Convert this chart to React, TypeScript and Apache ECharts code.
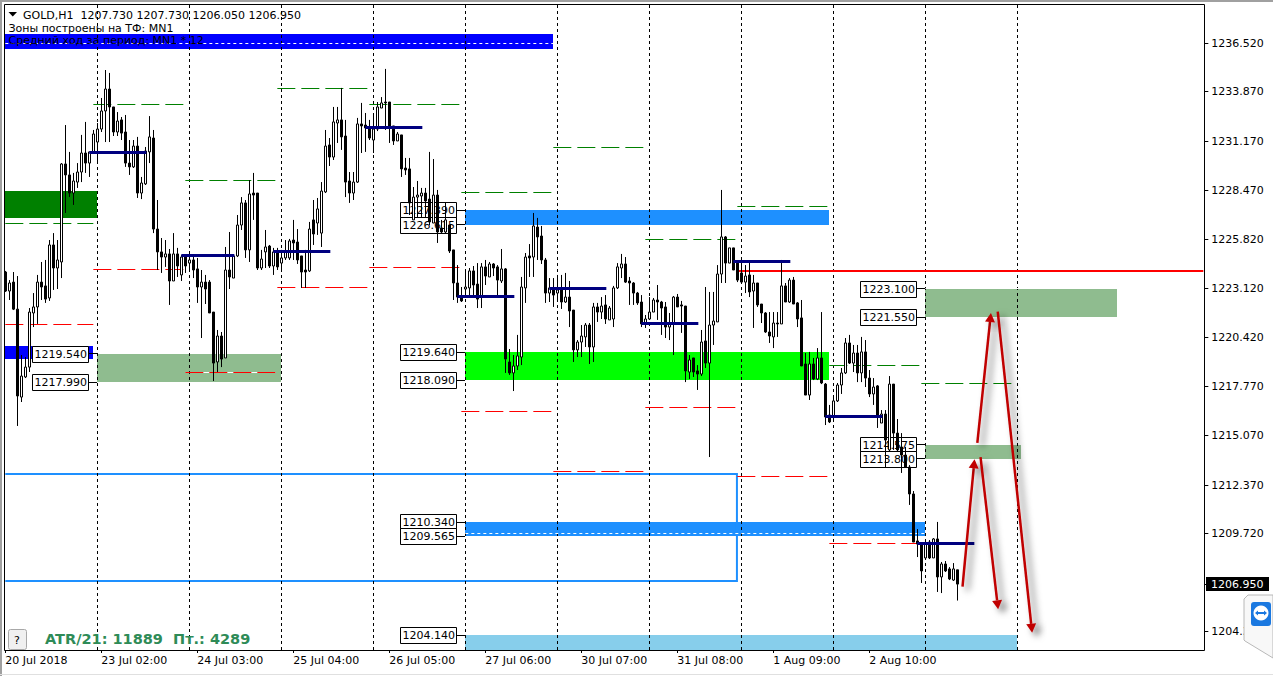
import React, { useEffect, useRef } from "react";
import * as echarts from "echarts";

// [open, close, low, high]
const bars20Jul = [[1224.02,1222.98,1222.93,1224.08],[1222.98,1223.42,1222.49,1223.58],[1223.47,1221.99,1221.94,1224.02],[1221.99,1217.24,1215.6,1223.8],[1217.18,1218.33,1216.91,1219.48],[1218.28,1218.82,1218.22,1219.37],[1218.82,1221.83,1218.55,1222.05],[1221.78,1222.11,1221.01,1222.87],[1222.11,1223.47,1221.18,1223.86],[1223.47,1223.2,1222.49,1224.57],[1223.26,1222.54,1222.33,1224.68],[1222.6,1225.5,1222.44,1225.77],[1225.5,1224.24,1223.04,1226.15],[1224.24,1224.68,1223.09,1225.77],[1224.57,1229.93,1223.69,1229.98],[1229.93,1229.33,1227.25,1232.06],[1229.33,1228.34,1228.12,1230.59],[1228.34,1229.0,1227.69,1229.44],[1228.94,1229.49,1228.62,1229.98],[1229.49,1230.53,1228.94,1231.52],[1230.53,1229.98,1229.44,1232.23],[1229.98,1230.59,1229.22,1230.59],[1230.59,1231.57,1230.53,1231.79],[1231.13,1231.84,1229.98,1232.17]];
const bars23Jul = [[1231.84,1232.83,1231.68,1233.54],[1232.83,1234.03,1231.13,1235.07],[1234.03,1233.05,1231.13,1234.91],[1233.05,1231.68,1231.46,1233.05],[1231.68,1232.28,1231.46,1232.77],[1232.34,1231.62,1231.24,1232.5],[1231.68,1229.98,1229.77,1232.61],[1229.98,1229.77,1229.33,1231.24],[1229.77,1230.91,1229.71,1231.24],[1230.91,1228.34,1228.07,1231.41],[1228.34,1228.89,1228.01,1229.22],[1228.84,1230.64,1228.78,1230.86],[1230.59,1231.41,1229.98,1232.55],[1231.35,1226.37,1226.15,1231.79],[1226.37,1225.12,1224.13,1227.96],[1225.12,1224.84,1223.97,1225.88],[1224.84,1225.01,1224.3,1225.77],[1225.01,1223.53,1222.22,1225.28],[1223.53,1225.01,1223.53,1226.15],[1225.01,1224.35,1223.75,1225.34],[1223.86,1224.84,1223.53,1224.95],[1224.95,1224.35,1223.97,1224.95],[1224.51,1224.68,1224.02,1224.9]];
const bars24Jul = [[1224.68,1224.13,1223.69,1224.9],[1224.19,1223.2,1222.33,1224.79],[1223.2,1223.47,1220.41,1224.13],[1223.47,1223.09,1222.27,1223.86],[1223.47,1221.78,1221.78,1223.58],[1221.83,1219.04,1218.06,1221.83],[1219.1,1220.52,1218.55,1220.85],[1220.52,1219.26,1218.82,1220.74],[1219.32,1224.13,1219.32,1225.39],[1224.13,1223.75,1223.09,1226.21],[1223.69,1224.9,1223.69,1224.9],[1224.9,1226.59,1224.84,1227.14],[1226.59,1227.8,1226.32,1228.12],[1227.8,1225.23,1224.79,1227.96],[1225.23,1228.29,1224.57,1229.05],[1228.34,1228.23,1226.87,1229.44],[1228.34,1224.24,1224.13,1228.34],[1224.24,1224.73,1224.13,1225.23],[1225.12,1225.39,1224.24,1226.32],[1225.44,1224.35,1224.24,1225.5],[1224.35,1225.12,1223.86,1225.34],[1225.12,1224.3,1224.13,1225.34],[1224.51,1224.79,1224.02,1225.23]];
const bars25Jul = [[1224.79,1225.12,1224.68,1225.77],[1224.79,1225.72,1224.68,1225.83],[1225.77,1225.61,1224.68,1226.87],[1225.66,1224.68,1224.46,1226.37],[1224.9,1224.02,1223.15,1224.9],[1224.13,1224.02,1223.15,1225.23],[1224.08,1226.37,1224.02,1226.76],[1226.87,1226.1,1225.5,1227.96],[1226.7,1227.47,1226.05,1228.07],[1226.15,1228.45,1225.39,1228.94],[1228.4,1230.91,1228.34,1231.79],[1230.97,1230.31,1229.82,1231.35],[1230.31,1232.23,1230.15,1233.05],[1232.17,1232.34,1231.08,1233.05],[1232.34,1231.41,1230.7,1234.09],[1231.46,1228.94,1228.12,1232.34],[1229.0,1228.34,1227.8,1229.49],[1228.34,1228.94,1227.96,1229.49],[1228.94,1232.12,1228.89,1232.45],[1232.12,1232.01,1230.53,1233.27],[1232.06,1231.9,1230.59,1232.72],[1231.9,1231.35,1231.24,1232.34],[1231.24,1231.84,1230.53,1232.61]];
const bars26Jul = [[1231.84,1233.05,1231.73,1233.32],[1232.99,1233.27,1232.99,1233.59],[1233.32,1233.27,1231.79,1235.13],[1233.32,1231.95,1231.08,1233.32],[1232.01,1231.19,1230.97,1232.01],[1231.19,1231.57,1231.19,1231.68],[1231.52,1229.66,1229.22,1231.52],[1229.71,1229.6,1229.33,1230.26],[1229.66,1227.8,1227.14,1230.26],[1226.87,1228.12,1226.87,1228.67],[1228.12,1228.23,1227.03,1229.0],[1228.18,1228.34,1227.03,1228.62],[1228.34,1227.91,1227.03,1228.62],[1228.01,1226.76,1226.59,1230.59],[1226.7,1228.23,1226.7,1230.2],[1228.23,1226.21,1225.61,1228.51],[1226.43,1226.21,1226.15,1226.87],[1226.21,1226.87,1226.15,1227.85],[1226.59,1225.17,1225.06,1226.59],[1225.23,1223.42,1222.49,1225.23],[1223.42,1222.65,1222.33,1224.4],[1222.65,1222.44,1222.38,1223.2],[1223.09,1223.2,1222.65,1224.13]];
const bars27Jul = [[1223.15,1224.08,1222.76,1224.24],[1224.08,1223.31,1222.65,1224.35],[1223.36,1222.54,1222.05,1224.51],[1222.65,1224.3,1222.05,1224.51],[1224.3,1223.8,1223.31,1224.68],[1223.75,1224.46,1223.75,1224.57],[1224.46,1224.24,1223.8,1224.51],[1224.3,1223.58,1222.65,1224.4],[1223.53,1224.19,1223.42,1225.28],[1224.19,1219.26,1218.5,1224.24],[1219.1,1218.5,1218.39,1219.81],[1218.5,1218.88,1217.51,1219.48],[1218.88,1219.43,1218.66,1220.58],[1219.37,1223.2,1218.93,1223.75],[1223.15,1224.84,1222.33,1225.06],[1224.9,1224.79,1223.75,1225.55],[1224.84,1226.54,1223.75,1227.25],[1226.48,1225.94,1224.68,1226.98],[1225.99,1224.68,1224.46,1226.54],[1224.68,1222.87,1222.33,1224.79],[1222.87,1223.15,1222.38,1223.69],[1223.15,1222.76,1222.11,1223.69],[1222.87,1223.04,1222.49,1223.86]];
const bars30Jul = [[1223.04,1222.38,1222.0,1223.86],[1222.38,1222.65,1222.33,1223.97],[1222.65,1221.89,1221.01,1223.53],[1221.94,1219.76,1219.1,1221.94],[1219.76,1220.19,1219.37,1220.3],[1220.19,1220.52,1219.37,1221.12],[1220.47,1221.12,1219.92,1221.23],[1221.12,1219.92,1218.99,1221.23],[1219.92,1222.11,1219.1,1222.33],[1222.11,1221.83,1221.29,1222.33],[1221.83,1222.16,1221.45,1222.65],[1222.22,1221.45,1221.18,1222.76],[1221.4,1222.05,1221.4,1222.16],[1221.45,1223.15,1221.01,1223.26],[1223.15,1224.3,1223.09,1224.51],[1224.24,1224.46,1223.69,1225.01],[1224.46,1223.47,1223.42,1224.84],[1223.53,1223.42,1222.22,1223.75],[1223.42,1222.87,1222.22,1223.47],[1222.87,1222.33,1222.22,1222.93],[1222.38,1221.18,1221.01,1222.76],[1221.23,1221.45,1220.96,1221.67],[1221.45,1221.83,1221.4,1222.65]];
const bars31Jul = [[1221.83,1222.49,1221.83,1222.6],[1222.49,1222.38,1221.4,1223.31],[1222.38,1222.05,1220.58,1222.44],[1222.11,1221.01,1220.41,1222.38],[1221.01,1221.23,1220.3,1221.78],[1221.23,1222.65,1219.48,1222.71],[1222.65,1222.11,1222.11,1222.82],[1222.22,1222.16,1220.69,1222.44],[1222.16,1218.61,1218.0,1222.16],[1218.55,1219.21,1218.17,1219.48],[1219.32,1218.55,1218.28,1219.32],[1218.61,1218.44,1217.57,1218.93],[1218.44,1220.19,1218.33,1220.85],[1220.25,1219.04,1218.77,1223.2],[1219.04,1221.12,1213.9,1222.93],[1221.12,1221.34,1220.03,1222.93],[1221.29,1223.91,1221.29,1224.4],[1223.91,1225.94,1223.42,1228.51],[1225.94,1224.51,1223.42,1225.99],[1224.51,1225.34,1224.51,1225.34],[1225.34,1224.13,1224.13,1225.34],[1224.51,1223.58,1223.47,1224.51],[1223.97,1223.47,1223.42,1224.35]];
const bars1Aug = [[1223.47,1223.8,1222.87,1224.4],[1223.86,1222.93,1222.65,1224.57],[1222.98,1223.42,1220.96,1223.86],[1223.42,1222.22,1222.11,1223.42],[1222.27,1221.78,1221.23,1222.27],[1221.78,1220.74,1220.69,1221.83],[1220.74,1220.52,1220.14,1221.83],[1220.47,1221.23,1219.86,1221.83],[1221.23,1221.18,1220.47,1221.83],[1221.18,1223.26,1221.18,1224.68],[1223.26,1222.38,1222.38,1223.42],[1222.38,1223.58,1222.33,1223.69],[1223.58,1222.27,1222.27,1223.75],[1222.33,1221.45,1221.01,1222.38],[1221.51,1218.88,1218.88,1222.49],[1218.99,1217.29,1217.29,1219.59],[1217.29,1218.99,1217.02,1219.65],[1218.99,1218.17,1218.11,1219.32],[1218.17,1219.32,1218.11,1219.86],[1219.32,1217.95,1217.89,1221.83],[1217.89,1216.09,1215.65,1217.95],[1216.2,1215.82,1215.76,1216.75],[1216.09,1216.97,1215.82,1217.18]];
const bars2Aug = [[1216.97,1217.84,1216.91,1217.95],[1217.84,1218.5,1217.35,1218.77],[1218.5,1220.14,1218.44,1220.41],[1220.14,1219.04,1218.99,1220.58],[1219.04,1219.59,1218.55,1220.03],[1219.59,1218.5,1218.0,1220.03],[1218.5,1219.65,1218.0,1220.47],[1219.65,1218.22,1217.73,1220.3],[1218.22,1217.35,1217.18,1218.66],[1217.35,1217.73,1216.75,1218.22],[1217.79,1216.2,1215.49,1217.84],[1215.76,1216.25,1215.76,1216.47],[1216.25,1214.83,1213.3,1216.47],[1214.29,1217.89,1214.18,1218.33],[1217.89,1215.21,1214.29,1217.89],[1215.21,1214.29,1214.23,1215.98],[1214.45,1214.01,1213.03,1215.21],[1214.01,1213.35,1213.3,1214.45],[1213.35,1211.88,1211.28,1213.46],[1211.88,1209.25,1209.25,1212.04],[1209.31,1209.14,1208.43,1209.96],[1209.2,1207.67,1207.01,1209.2],[1208.38,1209.2,1208.32,1209.36],[1209.25,1208.38,1208.32,1209.36],[1208.38,1209.42,1208.38,1209.47],[1209.42,1207.34,1206.52,1210.35],[1207.34,1208.05,1206.46,1208.16],[1208.05,1207.67,1207.61,1208.21],[1207.78,1207.23,1207.17,1207.88],[1207.17,1207.78,1207.12,1208.1],[1207.73,1206.95,1206.05,1207.73]];
const candles = [...bars20Jul, ...bars23Jul, ...bars24Jul, ...bars25Jul, ...bars26Jul, ...bars27Jul, ...bars30Jul, ...bars31Jul, ...bars1Aug, ...bars2Aug];

const timeLabels = ["20 Jul 2018", "23 Jul 02:00", "24 Jul 03:00", "25 Jul 04:00", "26 Jul 05:00", "27 Jul 06:00", "30 Jul 07:00", "31 Jul 08:00", "1 Aug 09:00", "2 Aug 10:00"];
const priceLabels = [1236.52, 1233.87, 1231.17, 1228.47, 1225.82, 1223.12, 1220.42, 1217.77, 1215.07, 1212.37, 1209.72, 1204.37];
const lastPrice = 1206.95;
const priceMax = 1238.626;
const priceMin = 1203.345;
const barSlots = 300;

// [fromBar, top, toBar, bottom]
const zoneRows = [
  [0, 1228.47, 23, 1227.0],
  [0, 1219.97, 21.9, 1219.24],
  [23, 1219.54, 69, 1217.99],
  [115, 1227.39, 206, 1226.615],
  [115, 1219.64, 206, 1218.09],
  [230, 1223.1, 277.9, 1221.55],
  [230, 1214.575, 253.9, 1213.8],
  [115, 1210.34, 230, 1209.565],
  [115, 1204.14, 253, priceMin],
  [0, 1237.04, 137, 1236.24],
];
const zoneColors = ["#008000", "#0000ff", "#8fbc8f", "#1e90ff", "#00ff00", "#8fbc8f", "#8fbc8f", "#1e90ff", "#87ceeb", "#0000ff"];

const openBox = [0, 1212.97, 182.9, 1207.12];
const resistanceLine = [183, 1224.08, 299.5];
const periodBars = [23, 46, 69, 92, 115, 138, 161, 184, 207, 230, 253];

// [fromBar, toBar, price]
const greenLevels = [[0, 22, 1226.69], [22, 44.5, 1233.16], [45, 67.5, 1229.0], [68, 90.5, 1234.07], [91, 113.5, 1233.16], [114, 136.5, 1228.38], [137, 159.5, 1230.84], [160, 182.5, 1225.81], [183, 205.5, 1227.63], [206, 228.5, 1218.93], [229, 251.5, 1217.93]];
const redLevels = [[0, 22, 1221.16], [22, 44.5, 1224.17], [45, 67.5, 1218.54], [68, 90.5, 1223.18], [91, 113.5, 1224.28], [114, 136.5, 1216.4], [137, 159.5, 1213.12], [160, 182.5, 1216.62], [183, 205.5, 1212.85], [206, 228.5, 1209.18]];
const zoneGridLines = [[0, 137, 1236.52], [115, 230, 1209.72], [230, 277.9, 1223.12], [0, 23, 1228.47]];
const whiteUnderlay = [[45, 67.5, 1218.54]];
const navyLevels = [[21, 35.25, 1230.57], [44, 57.25, 1224.9], [67, 81.25, 1225.15], [90, 104.25, 1231.94], [113, 127.25, 1222.69], [136, 150.25, 1223.13], [159, 173.25, 1221.22], [182, 196.25, 1224.57], [205, 219.25, 1216.13], [228, 242.25, 1209.18]];

// [zoneStartBar, price]
const priceTags = [[23, 1219.54], [23, 1217.99], [115, 1227.39], [115, 1226.615], [115, 1219.64], [115, 1218.09], [115, 1210.34], [115, 1209.565], [115, 1204.14], [230, 1223.1], [230, 1221.55], [230, 1214.575], [230, 1213.8]];

// [fromBar, fromPrice, tipBar, tipPrice]
const arrows = [
  [239.3, 1206.81, 242.3, 1213.78],
  [243.8, 1213.9, 248.2, 1205.57],
  [243, 1214.67, 246.4, 1221.78],
  [248.1, 1221.85, 256.7, 1204.29],
];

const FONT = "'DejaVu Sans', sans-serif";
const crisp = (v: number) => Math.round(v - 0.5) + 0.5;

const lineSeries = (name: string, rows: number[][], stroke: string, width: number, dash: number[] | null, z: number) => ({
  type: "custom", name, xAxisIndex: 1, yAxisIndex: 0, z, clip: false, silent: true,
  data: rows, encode: { x: [0, 1], y: 2 },
  renderItem: (_p: any, api: any) => {
    const a = api.coord([api.value(0), api.value(2)]);
    const b = api.coord([api.value(1), api.value(2)]);
    const y = width % 2 ? crisp(a[1]) : Math.round(a[1]);
    return { type: "line", shape: { x1: a[0], y1: y, x2: b[0], y2: y }, style: { stroke, lineWidth: width, lineDash: dash || undefined, fill: null } };
  },
});

export default function App() {
  const ref = useRef<HTMLDivElement>(null);
  useEffect(() => {
    const chart = echarts.init(ref.current!, undefined, { renderer: "svg" });
    const tickAt = (i: number) => i % 24 === 0 && i / 24 < timeLabels.length;
    const categories = Array.from({ length: barSlots }, (_, i) => String(i));
    chart.setOption({
      animation: false,
      backgroundColor: "#ffffff",
      grid: { left: 3.33, top: 5, width: 1200, height: 645, containLabel: false },
      xAxis: [
        {
          type: "category", data: categories, boundaryGap: true,
          axisLine: { show: false },
          axisTick: { show: true, alignWithLabel: true, length: 3, interval: tickAt, lineStyle: { color: "#000" } },
          axisLabel: { interval: tickAt, align: "left", margin: 5, color: "#000", fontFamily: FONT, fontSize: 11, formatter: (_v: string, i: number) => timeLabels[i / 24] ?? "" },
          splitLine: { show: false },
        },
        { type: "value", min: -0.5, max: barSlots - 0.5, show: false, splitLine: { show: false } },
      ],
      yAxis: {
        type: "value", position: "right", min: priceMin, max: priceMax, offset: 1,
        axisLine: { show: false },
        axisTick: { show: false },
        axisLabel: { customValues: priceLabels, margin: 7, color: "#000", fontFamily: FONT, fontSize: 11, formatter: (v: number) => v.toFixed(3) },
        splitLine: { show: false },
      },
      series: [
        {
          type: "custom", name: "zones", xAxisIndex: 1, yAxisIndex: 0, z: 1, clip: false, silent: true,
          data: zoneRows, encode: { x: [0, 2], y: [1, 3] },
          renderItem: (p: any, api: any) => {
            const a = api.coord([api.value(0), api.value(1)]);
            const b = api.coord([api.value(2), api.value(3)]);
            return { type: "rect", shape: { x: Math.round(a[0]), y: Math.round(a[1]), width: Math.round(b[0]) - Math.round(a[0]), height: Math.round(b[1]) - Math.round(a[1]) }, style: { fill: zoneColors[p.dataIndex] } };
          },
        },
        {
          type: "custom", name: "openBox", xAxisIndex: 1, yAxisIndex: 0, z: 1, clip: false, silent: true,
          data: [openBox], encode: { x: [0, 2], y: [1, 3] },
          renderItem: (_p: any, api: any) => {
            const a = api.coord([api.value(0), api.value(1)]);
            const b = api.coord([api.value(2), api.value(3)]);
            return { type: "polyline", shape: { points: [[a[0], a[1]], [b[0], a[1]], [b[0], b[1]], [a[0], b[1]]] }, style: { stroke: "#1e90ff", lineWidth: 2, fill: null } };
          },
        },
        {
          type: "custom", name: "periods", xAxisIndex: 1, yAxisIndex: 0, z: 2, clip: false, silent: true,
          data: periodBars.map((b) => [b]), encode: { x: 0 },
          renderItem: (_p: any, api: any) => {
            const a = api.coord([api.value(0), priceMax]);
            const b = api.coord([api.value(0), priceMin]);
            const x = crisp(a[0]);
            return { type: "line", shape: { x1: x, y1: a[1], x2: x, y2: b[1] }, style: { stroke: "#000", lineWidth: 1, lineDash: [3, 3], fill: null } };
          },
        },
        {
          type: "custom", name: "price ticks", xAxisIndex: 1, yAxisIndex: 0, z: 2, clip: false, silent: true,
          data: [...priceLabels, lastPrice].map((p) => [barSlots - 0.5, p]), encode: { x: 0, y: 1 },
          renderItem: (_p: any, api: any) => {
            const c = api.coord([api.value(0), api.value(1)]);
            const y = crisp(c[1]);
            return { type: "line", shape: { x1: c[0] + 1, y1: y, x2: c[0] + 5, y2: y }, style: { stroke: "#000", lineWidth: 1, fill: null } };
          },
        },
        lineSeries("zone grid lines", zoneGridLines, "#ffffff", 1, [3, 3], 2),
        lineSeries("white underlay", whiteUnderlay, "#ffffff", 1, null, 2),
        lineSeries("green levels", greenLevels, "#008000", 1, [18, 6], 3),
        lineSeries("red levels", redLevels, "#ff0000", 1, [18, 6], 3),
        lineSeries("resistance", [[resistanceLine[0], resistanceLine[2], resistanceLine[1]]], "#ff0000", 2, null, 3),
        {
          type: "custom", name: "tags", xAxisIndex: 1, yAxisIndex: 0, z: 4, clip: false, silent: true,
          data: priceTags, encode: { x: 0, y: 1 },
          renderItem: (_p: any, api: any) => {
            const c = api.coord([api.value(0), api.value(1)]);
            const right = Math.round(c[0]) - 9;
            const y = crisp(c[1]);
            return {
              type: "group",
              children: [
                { type: "line", shape: { x1: right, y1: y, x2: right + 9, y2: y }, style: { stroke: "#000", lineWidth: 1, fill: null } },
                { type: "rect", shape: { x: right - 55.5, y: Math.round(c[1]) - 7.5, width: 56, height: 16 }, style: { fill: "#fff", stroke: "#000", lineWidth: 1 } },
                { type: "text", style: { x: right - 53.5, y: Math.round(c[1]) + 0.5, text: api.value(1).toFixed(3), fill: "#000", font: `11px ${FONT}`, textVerticalAlign: "middle", verticalAlign: "middle" } },
              ],
            };
          },
        },
        {
          type: "candlestick", name: "GOLD,H1", xAxisIndex: 0, yAxisIndex: 0, z: 5, data: candles, barWidth: 2, silent: true, clip: false,
          itemStyle: { color: "#ffffff", color0: "#000000", borderColor: "#000000", borderColor0: "#000000", borderWidth: 1 },
        },
        lineSeries("navy levels", navyLevels, "#000080", 3, null, 6),
        {
          type: "custom", name: "arrows", xAxisIndex: 1, yAxisIndex: 0, z: 7, clip: false, silent: true,
          data: arrows, encode: { x: [0, 2], y: [1, 3] },
          renderItem: (_p: any, api: any) => {
            const a = api.coord([api.value(0), api.value(1)]);
            const t = api.coord([api.value(2), api.value(3)]);
            const dx = t[0] - a[0], dy = t[1] - a[1], len = Math.hypot(dx, dy);
            const ux = dx / len, uy = dy / len;
            const bx = t[0] - ux * 9, by = t[1] - uy * 9;
            const shadow = { shadowBlur: 7, shadowColor: "rgba(0,0,0,0.6)", shadowOffsetX: 5, shadowOffsetY: 4 };
            return {
              type: "group",
              children: [
                { type: "line", shape: { x1: a[0], y1: a[1], x2: bx, y2: by }, style: { stroke: "#c00000", lineWidth: 2.5, fill: null, ...shadow } },
                { type: "polygon", shape: { points: [[t[0], t[1]], [bx - uy * 5, by + ux * 5], [bx + uy * 5, by - ux * 5]] }, style: { fill: "#c00000", ...shadow } },
              ],
            };
          },
        },
        {
          type: "custom", name: "last price", xAxisIndex: 1, yAxisIndex: 0, z: 8, clip: false, silent: true,
          data: [[candles.length - 1, lastPrice]], encode: { x: 0, y: 1 },
          renderItem: (_p: any, api: any) => {
            const c = api.coord([api.value(0), api.value(1)]);
            const y = Math.round(c[1]);
            return {
              type: "group",
              children: [
                { type: "rect", shape: { x: 1206, y: y - 7, width: 63, height: 14 }, style: { fill: "#000" } },
                { type: "text", style: { x: 1211, y, text: api.value(1).toFixed(3), fill: "#fff", font: `11px ${FONT}`, textVerticalAlign: "middle", verticalAlign: "middle" } },
              ],
            };
          },
        },
      ],
      graphic: [
        { type: "rect", z: 50, silent: true, shape: { x: 0, y: 0, width: 2, height: 676 }, style: { fill: "#a0a0a0" } },
        { type: "rect", z: 50, silent: true, shape: { x: 0, y: 0, width: 1273, height: 2 }, style: { fill: "#a0a0a0" } },
        { type: "rect", z: 50, silent: true, shape: { x: 0, y: 674, width: 1273, height: 1 }, style: { fill: "#e0e0e0" } },
        { type: "rect", z: 50, silent: true, shape: { x: 4.5, y: 4.5, width: 1200, height: 646 }, style: { fill: "none", stroke: "#000", lineWidth: 1 } },
        { type: "polygon", z: 60, silent: true, shape: { points: [[8.5, 12], [17, 12], [12.75, 16.5]] }, style: { fill: "#000" } },
        { type: "text", z: 60, silent: true, style: { x: 23, y: 15, text: "GOLD,H1  1207.730 1207.730 1206.050 1206.950", fill: "#000", font: `11px ${FONT}`, verticalAlign: "middle", textVerticalAlign: "middle" } },
        { type: "text", z: 60, silent: true, style: { x: 8.5, y: 28, text: "Зоны построены на ТФ: MN1", fill: "#000", font: `11px ${FONT}`, verticalAlign: "middle", textVerticalAlign: "middle" } },
        { type: "text", z: 60, silent: true, style: { x: 8.5, y: 40, text: "Средний ход за период: MN1 * 12", fill: "#000", font: `11px ${FONT}`, verticalAlign: "middle", textVerticalAlign: "middle" } },
        { type: "rect", z: 60, silent: true, shape: { x: 8.5, y: 629.5, width: 18, height: 20, r: 2 }, style: { fill: "#f0f0f0", stroke: "#a8a8a8", lineWidth: 1 } },
        { type: "text", z: 61, silent: true, style: { x: 14, y: 640, text: "?", fill: "#000", font: `11px ${FONT}`, verticalAlign: "middle", textVerticalAlign: "middle" } },
        { type: "text", z: 60, silent: true, style: { x: 45, y: 639, text: "ATR/21: 11889  Пт.: 4289", fill: "#2e8b57", font: `bold 14.5px ${FONT}`, verticalAlign: "middle", textVerticalAlign: "middle" } },
        { type: "polygon", z: 70, silent: true, shape: { points: [[1248, 595], [1273, 595], [1273, 658], [1245, 641], [1244, 640], [1244, 599]] }, style: { fill: "#f8f8f8", stroke: "#b8b8b8", lineWidth: 1 } },
        { type: "rect", z: 71, silent: true, shape: { x: 1251, y: 602, width: 20, height: 24, r: 3 }, style: { fill: "#1a78e0" } },
        { type: "circle", z: 72, silent: true, shape: { cx: 1261, cy: 613, r: 7.5 }, style: { fill: "#ffffff" } },
        { type: "polygon", z: 73, silent: true, shape: { points: [[1255, 613], [1258, 610.5], [1258, 612], [1264, 612], [1264, 610.5], [1267, 613], [1264, 615.5], [1264, 614], [1258, 614], [1258, 615.5]] }, style: { fill: "#1a78e0" } },
      ],
    });
    return () => chart.dispose();
  }, []);
  return <div ref={ref} style={{ position: "fixed", left: 0, top: 0, width: 1273, height: 676 }} />;
}
